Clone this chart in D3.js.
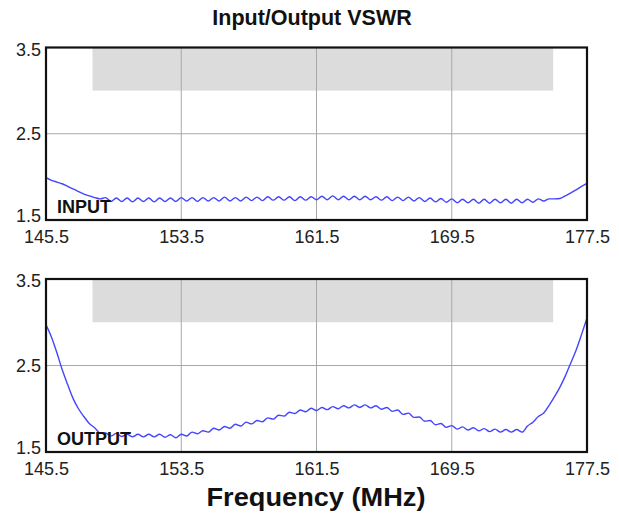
<!DOCTYPE html>
<html>
<head>
<meta charset="utf-8">
<script src="https://cdn.jsdelivr.net/npm/d3@7"></script>
<style>
  html, body { margin: 0; padding: 0; background: #fff; }
  svg { display: block; font-family: "Liberation Sans", Arial, sans-serif; }
</style>
</head>
<body>
<script>
// ---------------- data ----------------
const freqMHz = [
  145.50,145.82,146.14,146.46,146.78,147.10,147.42,147.74,148.06,148.38,
  148.70,149.02,149.34,149.66,149.98,150.30,150.62,150.94,151.26,151.58,
  151.90,152.22,152.54,152.86,153.18,153.50,153.82,154.14,154.46,154.78,
  155.10,155.42,155.74,156.06,156.38,156.70,157.02,157.34,157.66,157.98,
  158.30,158.62,158.94,159.26,159.58,159.90,160.22,160.54,160.86,161.18,
  161.50,161.82,162.14,162.46,162.78,163.10,163.42,163.74,164.06,164.38,
  164.70,165.02,165.34,165.66,165.98,166.30,166.62,166.94,167.26,167.58,
  167.90,168.22,168.54,168.86,169.18,169.50,169.82,170.14,170.46,170.78,
  171.10,171.42,171.74,172.06,172.38,172.70,173.02,173.34,173.66,173.98,
  174.30,174.62,174.94,175.26,175.58,175.90,176.22,176.54,176.86,177.18,
  177.50
];
const inputVSWR = [
  1.99,1.96,1.94,1.92,1.89,1.86,1.83,1.80,1.78,1.76,
  1.745,1.76,1.715,1.755,1.715,1.755,1.71,1.755,1.715,1.755,
  1.71,1.755,1.715,1.755,1.715,1.76,1.72,1.76,1.715,1.76,
  1.72,1.76,1.72,1.765,1.72,1.76,1.72,1.765,1.725,1.765,
  1.725,1.77,1.73,1.77,1.73,1.77,1.725,1.77,1.73,1.77,
  1.735,1.775,1.735,1.78,1.735,1.775,1.735,1.775,1.735,1.775,
  1.735,1.77,1.73,1.77,1.725,1.765,1.725,1.765,1.72,1.76,
  1.715,1.755,1.71,1.75,1.705,1.745,1.70,1.74,1.70,1.74,
  1.695,1.74,1.695,1.74,1.70,1.74,1.695,1.74,1.70,1.74,
  1.705,1.745,1.72,1.745,1.745,1.75,1.78,1.815,1.85,1.89,
  1.925
];
const outputVSWR = [
  2.97,2.83,2.65,2.45,2.28,2.12,2.00,1.91,1.83,1.78,
  1.72,1.72,1.685,1.715,1.68,1.705,1.675,1.705,1.675,1.705,
  1.675,1.705,1.67,1.70,1.665,1.705,1.685,1.73,1.71,1.745,
  1.73,1.775,1.755,1.795,1.775,1.82,1.80,1.845,1.825,1.865,
  1.85,1.895,1.88,1.925,1.915,1.96,1.945,1.985,1.965,2.005,
  1.98,2.015,1.99,2.025,2.00,2.035,2.01,2.045,2.015,2.045,
  2.01,2.035,1.995,2.015,1.97,1.985,1.935,1.95,1.90,1.905,
  1.855,1.865,1.815,1.83,1.785,1.805,1.765,1.79,1.755,1.78,
  1.745,1.77,1.735,1.765,1.73,1.76,1.73,1.76,1.73,1.80,
  1.845,1.91,1.95,2.04,2.14,2.25,2.38,2.53,2.68,2.86,
  3.05
];
const xTicks = [145.5, 153.5, 161.5, 169.5, 177.5];
const yTicks = [1.5, 2.5, 3.5];
const bandFreq = [148.25, 175.5];
const bandVSWR = [3.0, 3.5];
const panelLabels = ["INPUT", "OUTPUT"];
const titleText = "Input/Output VSWR";
const xTitle = "Frequency (MHz)";

// ---------------- layout ----------------
const W = 619, H = 516;
const left = 46, right = 587;
const panels = [
  { label: panelLabels[0], values: inputVSWR,  top: 47.5, bottom: 220, labelY: 213,   yLabelDy: [-4, 0, 2.5] },
  { label: panelLabels[1], values: outputVSWR, top: 279,  bottom: 452, labelY: 444.5, yLabelDy: [-4, 0, 2] }
];

const svg = d3.select("body").append("svg")
  .attr("width", W).attr("height", H);

const x = d3.scaleLinear().domain([145.5, 177.5]).range([left, right]);

svg.append("text")
  .attr("x", 312).attr("y", 25)
  .attr("text-anchor", "middle")
  .attr("font-size", 21.5).attr("font-weight", "bold")
  .attr("fill", "#111")
  .text(titleText);

panels.forEach((p, pi) => {
  const y = d3.scaleLinear().domain([1.5, 3.5]).range([p.bottom, p.top]);
  const g = svg.append("g");
  const clipId = "clip" + pi;
  svg.append("clipPath").attr("id", clipId)
    .append("rect")
    .attr("x", left).attr("y", p.top)
    .attr("width", right - left).attr("height", p.bottom - p.top);

  // spec band
  g.append("rect")
    .attr("x", x(bandFreq[0])).attr("y", y(bandVSWR[1]))
    .attr("width", x(bandFreq[1]) - x(bandFreq[0]))
    .attr("height", y(bandVSWR[0]) - y(bandVSWR[1]))
    .attr("fill", "#dcdcdc");

  // grid
  g.selectAll(".vg").data(xTicks.slice(1, -1)).enter().append("line")
    .attr("x1", d => x(d)).attr("x2", d => x(d))
    .attr("y1", p.top).attr("y2", p.bottom)
    .attr("stroke", "#a8a8a8").attr("stroke-width", 1);
  g.selectAll(".hg").data(yTicks.slice(1, -1)).enter().append("line")
    .attr("x1", left).attr("x2", right)
    .attr("y1", d => y(d)).attr("y2", d => y(d))
    .attr("stroke", "#a8a8a8").attr("stroke-width", 1);

  // curve
  const line = d3.line()
    .x((d, i) => x(freqMHz[i]))
    .y(d => y(d))
    .curve(d3.curveMonotoneX);
  g.append("path")
    .datum(p.values)
    .attr("clip-path", `url(#${clipId})`)
    .attr("d", line)
    .attr("fill", "none")
    .attr("stroke", "#4545ff")
    .attr("stroke-width", 1.4);

  // panel label
  g.append("text")
    .attr("x", 57).attr("y", p.labelY)
    .attr("font-size", 18).attr("font-weight", "bold")
    .attr("fill", "#111")
    .text(p.label);

  // frame
  g.append("rect")
    .attr("x", left).attr("y", p.top)
    .attr("width", right - left).attr("height", p.bottom - p.top)
    .attr("fill", "none").attr("stroke", "#111").attr("stroke-width", 2.2);

  // axes
  const xa = g.append("g").attr("transform", `translate(0,${p.bottom})`)
    .call(d3.axisBottom(x).tickValues(xTicks).tickSize(0).tickPadding(10).tickFormat(d3.format(".1f")));
  xa.select(".domain").remove();
  xa.selectAll("text").attr("font-size", 18).attr("fill", "#222")
    .attr("font-family", "'Liberation Sans', Arial, sans-serif");

  const ya = g.append("g").attr("transform", `translate(${left},0)`)
    .call(d3.axisLeft(y).tickValues(yTicks).tickSize(0).tickPadding(5).tickFormat(d3.format(".1f")));
  ya.select(".domain").remove();
  ya.selectAll("text").attr("font-size", 18).attr("fill", "#222")
    .attr("font-family", "'Liberation Sans', Arial, sans-serif")
    .attr("transform", (d, i) => `translate(0,${p.yLabelDy[i]})`);
});

svg.append("text")
  .attr("x", 316).attr("y", 506)
  .attr("text-anchor", "middle")
  .attr("font-size", 25).attr("font-weight", "bold")
  .attr("fill", "#111")
  .attr("textLength", 219).attr("lengthAdjust", "spacingAndGlyphs")
  .text(xTitle);
</script>
</body>
</html>
